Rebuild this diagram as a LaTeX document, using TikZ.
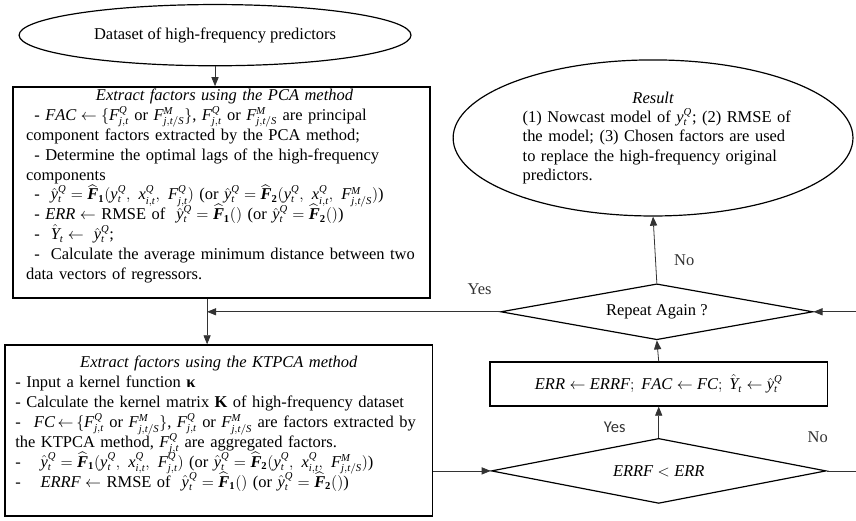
\documentclass[tikz,border=0pt]{standalone}
\usepackage{amsmath}
\usepackage{fontspec}
\setmainfont{Liberation Serif}
\newfontfamily\labelsans{Carlito}
\usetikzlibrary{positioning,arrows.meta,shapes.geometric}

% smaller indices for the stacked factor names
\DeclareMathSizes{12.4}{12.4}{8}{6}

% factors, regressors and estimated models
\newcommand{\Fq}{\mathit{F}^{\mathit{Q}}_{\mathit{j,t}}}
\newcommand{\Fm}{\mathit{F}^{\mathit{M}}_{\mathit{j,t/S}}}
\newcommand{\yt}{\mathit{y}^{\mathit{Q}}_{\mathit{t}}}
\newcommand{\xq}{\mathit{x}^{\mathit{Q}}_{\mathit{i,t}}}
\newcommand{\yq}{\hat{\mathit{y}}^{\mathit{Q}}_{\mathit{t}}}
\newcommand{\Yt}{\hat{\mathit{Y}}_{\mathit{t}}}
\newcommand{\bF}{\mbox{\bfseries\itshape F}}
\newcommand{\Fone}{\widehat{\bF}_{\mathbf{1}}}
\newcommand{\Ftwo}{\widehat{\bF}_{\mathbf{2}}}

\hyphenpenalty=10000
\exhyphenpenalty=10000

\begin{document}
\begin{tikzpicture}[
        font=\fontsize{12.4pt}{14.6pt}\selectfont,
        >={Triangle[length=2.4mm, width=1.9mm]},
        oval/.style  ={draw, line width=0.9pt, ellipse, inner sep=0pt},
        block/.style ={draw, line width=1.1pt, rectangle, inner sep=0pt},
        lines/.style ={execute at begin node={\baselineskip=#1\lineskiplimit=-12pt}},
        panel/.style ={inner sep=0pt, anchor=north, lines=15pt},
        test/.style  ={draw, line width=0.9pt, diamond, aspect=5, inner sep=0pt},
        flow/.style  ={->, line width=0.6pt, black!80},
        wire/.style  ={line width=0.6pt, black!80},
        lbl/.style   ={inner sep=0pt},
    ]
    \useasboundingbox (0,0) rectangle (22.65,-13.785);

    % ===================== Input data =====================
    \node[oval, minimum width=10.37cm, minimum height=1.62cm] (data) at (5.69,-0.93)
        {Dataset of high-frequency predictors};

    % ===================== PCA step =====================
    \node[block, minimum width=11.03cm, minimum height=5.58cm] (pca) at (5.86,-5.09) {};
    \node[panel, text width=10.5cm] (pcatext) at ([xshift=0.8mm, yshift=-0.6mm]pca.north) {%
        {\centering\itshape Extract factors using the PCA method\par}
        \mbox{\hspace*{0.5em}- $\mathit{FAC} \leftarrow \{\Fq$ or $\Fm\}$, $\Fq$ or $\Fm$ are principal}\\
        component factors extracted by the PCA method;\\
        \hspace*{0.5em}- Determine the optimal lags of the high-frequency\\
        components\\
        \mbox{\hspace*{0.5em}- \ $\yq = \Fone(\yt,\ \xq,\ \Fq)$ (or $\yq = \Ftwo(\yt,\ \xq,\ \Fm)$)}\\
        \mbox{\hspace*{0.5em}- $\mathit{ERR} \leftarrow$ RMSE of \ $\yq = \Fone()$ (or $\yq = \Ftwo()$)}\\
        \hspace*{0.5em}- \ $\Yt \leftarrow \ \yq$;\\
        \makebox[\linewidth][s]{\hspace*{0.5em}- \ Calculate the average minimum distance between two}\\
        data vectors of regressors.};

    % ===================== KTPCA step =====================
    \node[block, minimum width=11.32cm, minimum height=4.52cm] (ktpca) at (5.79,-11.39) {};
    \node[panel, text width=10.77cm] (ktpcatext) at ([yshift=-3mm]ktpca.north) {%
        {\centering\itshape Extract factors using the KTPCA method\par}
        - Input a kernel function \textbf{κ}\\
        - Calculate the kernel matrix $\mathbf{K}$ of high-frequency dataset\\
        \makebox[\linewidth][s]{\thickmuskip=3mu-\hspace{0.8em}$\mathit{FC} \leftarrow \{\Fq$ or $\Fm\}$, $\Fq$ or $\Fm$ are factors extracted by}\\
        the KTPCA method, $\Fq$ are aggregated factors.\\
        \mbox{-\hspace{1.2em}$\yq = \Fone(\yt,\ \xq,\ \Fq)$ (or $\yq = \Ftwo(\yt,\ \xq,\ \Fm)$)}\\
        \mbox{-\hspace{1.2em}$\mathit{ERRF} \leftarrow$ RMSE of \ $\yq = \Fone()$ (or $\yq = \Ftwo()$)}};

    % ===================== Decision loop (right) =====================
    \node[oval, lines=14.5pt, text width=6.9cm, minimum width=10.58cm, minimum height=4.13cm] (result) at (17.28,-3.65) {%
        {\centering\itshape Result\par}
        \makebox[\linewidth][s]{(1) Nowcast model of $\yt$; (2) RMSE of}\\
        \makebox[\linewidth][s]{the model; (3) Chosen factors are used}\\
        \makebox[\linewidth][s]{to replace the high-frequency original}\\
        predictors.};
    \node[test, minimum width=8.26cm, minimum height=1.48cm] (again) at (17.38,-8.25) {Repeat Again ?};
    \node[block, minimum width=8.92cm, minimum height=1.16cm] (update) at (17.43,-10.16)
        {$\mathit{ERR} \leftarrow \mathit{ERRF};\ \mathit{FAC} \leftarrow \mathit{FC};\ \Yt \leftarrow \yq$};
    \node[test, minimum width=8.86cm, minimum height=1.72cm] (better) at (17.43,-12.46)
        {$\mathit{ERRF} < \mathit{ERR}$};

    % loop wires leaving on the right
    \coordinate (outB) at (22.65,-12.46);
    \coordinate (outA) at (22.65,-8.25);

    % ===================== Connectors =====================
    \draw[flow] (data.south) -- (data.south |- pca.north);
    \coordinate (join) at ([xshift=-0.38cm]pca.south);
    \draw[flow] (join) -- (join |- ktpca.north);
    \draw[flow] (better.west -| ktpca.east) -- (better.west);
    \draw[flow] (better.north) -- (update.south)
        node[lbl, midway, left=0.87cm, yshift=-1.3mm, font=\labelsans\fontsize{12.4pt}{14.6pt}\selectfont] {Yes};
    \draw[wire] (better.east) -- (outB)
        node[lbl, pos=0, above=0.75cm, xshift=-2.4mm] {No};
    \draw[flow] (update.north) -- (again.south);
    \draw[flow] (outA) -- (again.east);
    \draw[flow] (again.north) -- (result.south)
        node[lbl, midway, right=0.5cm, yshift=-2.6mm] {No};
    \draw[flow] (again.west) -- (join |- again.west)
        node[lbl, pos=0.07, above=0.44cm] {Yes};
\end{tikzpicture}
\end{document}
